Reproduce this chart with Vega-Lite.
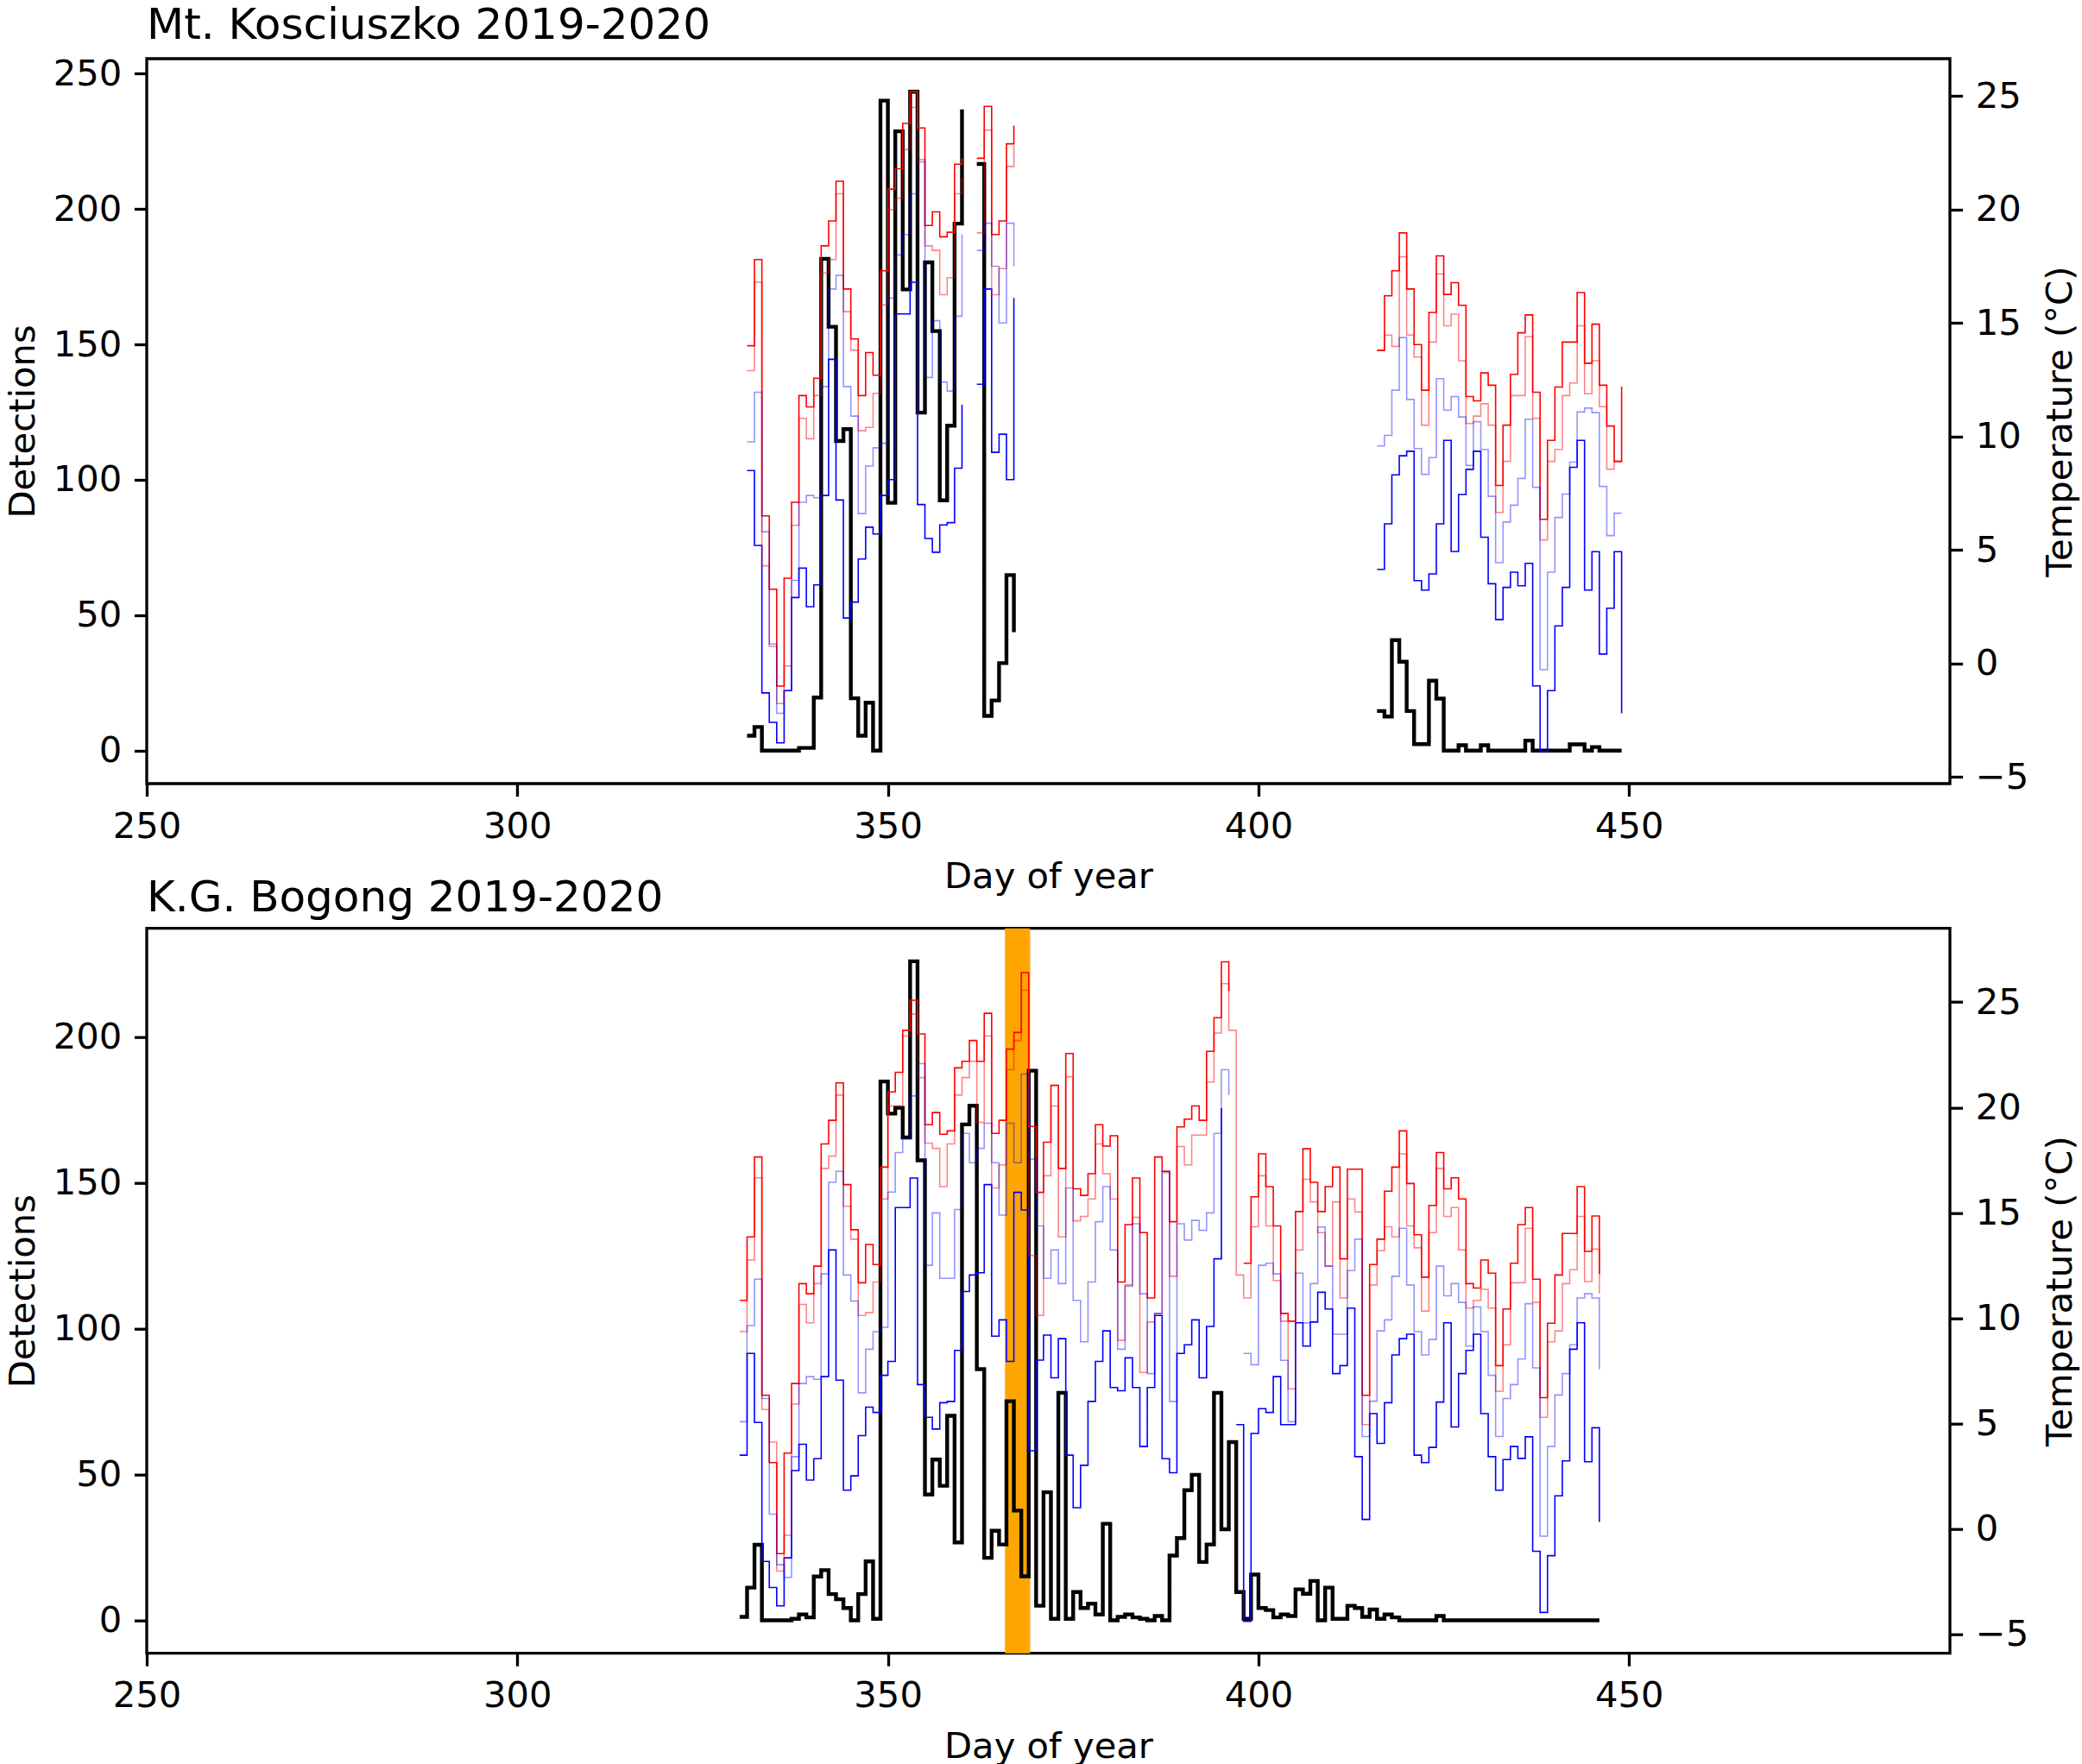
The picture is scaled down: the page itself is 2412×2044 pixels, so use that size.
{
  "$schema": "https://vega.github.io/schema/vega-lite/v6.json",
  "description": "Bogong moth detections and daily temperatures at two alpine sites, summer 2019-2020.",
  "background": "white",
  "padding": {"left": 4, "top": 3, "right": 5, "bottom": 5},
  "bounds": "flush",
  "spacing": 167.7,
  "datasets": {
    "kos": [
      {"day": 331, "det": 5.5, "t_max": 14.0, "t_high": 12.9, "t_low": 9.76, "t_min": 8.5},
      {"day": 332, "det": 8.7, "t_max": 17.8, "t_high": 16.8, "t_low": 11.95, "t_min": 5.2},
      {"day": 333, "det": 0, "t_max": 6.5, "t_high": 4.3, "t_low": 5.8, "t_min": -1.3},
      {"day": 334, "det": 0, "t_max": 3.27, "t_high": 0.75, "t_low": 0.85, "t_min": -2.6},
      {"day": 335, "det": 0, "t_max": -1.0, "t_high": -1.77, "t_low": -2.2, "t_min": -3.5},
      {"day": 336, "det": 0, "t_max": 3.75, "t_high": -0.12, "t_low": -1.2, "t_min": -1.2},
      {"day": 337, "det": 0, "t_max": 7.1, "t_high": 6.08, "t_low": 3.66, "t_min": 2.9},
      {"day": 338, "det": 1, "t_max": 11.8, "t_high": 10.8, "t_low": 7.1, "t_min": 4.2},
      {"day": 339, "det": 1, "t_max": 11.3, "t_high": 9.9, "t_low": 7.4, "t_min": 2.5},
      {"day": 340, "det": 19.6, "t_max": 12.57, "t_high": 11.8, "t_low": 7.3, "t_min": 3.46},
      {"day": 341, "det": 181.6, "t_max": 18.4, "t_high": 17.2, "t_low": 12.2, "t_min": 7.4},
      {"day": 342, "det": 156.5, "t_max": 19.5, "t_high": 17.8, "t_low": 16.5, "t_min": 13.4},
      {"day": 343, "det": 114.3, "t_max": 21.25, "t_high": 20.7, "t_low": 17.1, "t_min": 7.2},
      {"day": 344, "det": 118.7, "t_max": 16.5, "t_high": 15.5, "t_low": 12.2, "t_min": 2.0},
      {"day": 345, "det": 19.3, "t_max": 14.3, "t_high": 13.8, "t_low": 10.9, "t_min": 2.7},
      {"day": 346, "det": 5.5, "t_max": 11.8, "t_high": 10.25, "t_low": 6.6, "t_min": 4.6},
      {"day": 347, "det": 17.7, "t_max": 13.7, "t_high": 10.4, "t_low": 8.7, "t_min": 6.0},
      {"day": 348, "det": 0, "t_max": 12.7, "t_high": 11.9, "t_low": 9.5, "t_min": 5.7},
      {"day": 349, "det": 240, "t_max": 17.3, "t_high": 15.8, "t_low": 9.7, "t_min": 7.4},
      {"day": 350, "det": 91.5, "t_max": 20.9, "t_high": 20.0, "t_low": 16.1, "t_min": 8.1},
      {"day": 351, "det": 228.7, "t_max": 21.8, "t_high": 20.5, "t_low": 18.0, "t_min": 15.4},
      {"day": 352, "det": 170.3, "t_max": 23.8, "t_high": 22.65, "t_low": 18.9, "t_min": 15.4},
      {"day": 353, "det": 243.3, "t_max": 25.2, "t_high": 24.5, "t_low": 20.7, "t_min": 16.8},
      {"day": 354, "det": 124.8, "t_max": 23.6, "t_high": 22.1, "t_low": 22.2, "t_min": 7.0},
      {"day": 355, "det": 180.3, "t_max": 19.3, "t_high": 18.4, "t_low": 12.6, "t_min": 5.5},
      {"day": 356, "det": 154.9, "t_max": 19.9, "t_high": 18.2, "t_low": 15.1, "t_min": 4.9},
      {"day": 357, "det": 92.4, "t_max": 18.8, "t_high": 16.25, "t_low": 12.4, "t_min": 6.1},
      {"day": 358, "det": 120, "t_max": 19.0, "t_high": 17.0, "t_low": 12.0, "t_min": 6.2},
      {"day": 359, "det": 194.6, "t_max": 22.0, "t_high": 20.7, "t_low": 15.3, "t_min": 8.6},
      {"day": 360, "det": 236.8, "t_max": 22.26, "t_high": 21.4, "t_low": 18.9, "t_min": 11.4},
      {"day": 361, "det": null, "t_max": null, "t_high": null, "t_low": null, "t_min": null},
      {"day": 362, "det": 216.6, "t_max": 22.26, "t_high": 18.97, "t_low": 18.2, "t_min": 12.3},
      {"day": 363, "det": 12.8, "t_max": 24.55, "t_high": 23.5, "t_low": 19.4, "t_min": 16.5},
      {"day": 364, "det": 18.5, "t_max": 18.9, "t_high": 16.25, "t_low": 17.5, "t_min": 9.3},
      {"day": 365, "det": 32.3, "t_max": 19.5, "t_high": 17.4, "t_low": 15.0, "t_min": 10.1},
      {"day": 366, "det": 64.8, "t_max": 22.9, "t_high": 21.9, "t_low": 19.4, "t_min": 8.1},
      {"day": 367, "det": 43.7, "t_max": 23.7, "t_high": 22.85, "t_low": 17.5, "t_min": 16.1},
      {"day": 368, "det": null, "t_max": null, "t_high": null, "t_low": null, "t_min": null},
      {"day": 416, "det": 14.6, "t_max": 13.8, "t_high": 13.8, "t_low": 9.58, "t_min": 4.14},
      {"day": 417, "det": 12.6, "t_max": 16.2, "t_high": 14.47, "t_low": 10.05, "t_min": 6.15},
      {"day": 418, "det": 40.8, "t_max": 17.3, "t_high": 13.97, "t_low": 12.04, "t_min": 8.31},
      {"day": 419, "det": 32.8, "t_max": 18.97, "t_high": 17.92, "t_low": 14.36, "t_min": 9.15},
      {"day": 420, "det": 14.6, "t_max": 16.5, "t_high": 14.47, "t_low": 11.63, "t_min": 9.35},
      {"day": 421, "det": 2.4, "t_max": 14.05, "t_high": 13.5, "t_low": 9.47, "t_min": 3.65},
      {"day": 422, "det": 2.4, "t_max": 12.04, "t_high": 10.5, "t_low": 8.33, "t_min": 3.23},
      {"day": 423, "det": 25.8, "t_max": 15.47, "t_high": 14.16, "t_low": 9.07, "t_min": 3.94},
      {"day": 424, "det": 19.2, "t_max": 17.96, "t_high": 17.16, "t_low": 12.55, "t_min": 6.15},
      {"day": 425, "det": 0, "t_max": 16.26, "t_high": 14.88, "t_low": 11.16, "t_min": 9.83},
      {"day": 426, "det": 0, "t_max": 16.78, "t_high": 15.39, "t_low": 11.76, "t_min": 4.93},
      {"day": 427, "det": 2, "t_max": 15.78, "t_high": 13.34, "t_low": 10.86, "t_min": 7.44},
      {"day": 428, "det": 0, "t_max": 11.76, "t_high": 10.57, "t_low": 8.72, "t_min": 8.55},
      {"day": 429, "det": 0, "t_max": 11.57, "t_high": 10.9, "t_low": 10.65, "t_min": 9.35},
      {"day": 430, "det": 2, "t_max": 12.8, "t_high": 11.44, "t_low": 9.43, "t_min": 5.56},
      {"day": 431, "det": 0, "t_max": 12.26, "t_high": 10.5, "t_low": 7.36, "t_min": 3.51},
      {"day": 432, "det": 0, "t_max": 7.84, "t_high": 6.65, "t_low": 4.44, "t_min": 1.93},
      {"day": 433, "det": 0, "t_max": 10.5, "t_high": 8.9, "t_low": 6.23, "t_min": 3.35},
      {"day": 434, "det": 0, "t_max": 12.74, "t_high": 11.8, "t_low": 6.97, "t_min": 4.02},
      {"day": 435, "det": 0, "t_max": 14.57, "t_high": 11.8, "t_low": 8.15, "t_min": 3.42},
      {"day": 436, "det": 3.7, "t_max": 15.36, "t_high": 14.4, "t_low": 10.76, "t_min": 4.41},
      {"day": 437, "det": 0, "t_max": 11.95, "t_high": 10.8, "t_low": 7.76, "t_min": -0.99},
      {"day": 438, "det": 0, "t_max": 6.35, "t_high": 5.44, "t_low": -0.28, "t_min": -3.88},
      {"day": 439, "det": 0, "t_max": 9.83, "t_high": 8.9, "t_low": 4.02, "t_min": -1.2},
      {"day": 440, "det": 0, "t_max": 12.18, "t_high": 9.43, "t_low": 6.43, "t_min": 1.65},
      {"day": 441, "det": 0, "t_max": 14.16, "t_high": 11.8, "t_low": 7.46, "t_min": 3.35},
      {"day": 442, "det": 2.3, "t_max": 14.16, "t_high": 12.36, "t_low": 8.87, "t_min": 8.64},
      {"day": 443, "det": 2.3, "t_max": 16.34, "t_high": 14.88, "t_low": 11.08, "t_min": 9.83},
      {"day": 444, "det": 0, "t_max": 13.23, "t_high": 11.88, "t_low": 11.25, "t_min": 3.23},
      {"day": 445, "det": 1.3, "t_max": 14.95, "t_high": 13.34, "t_low": 11.05, "t_min": 4.92},
      {"day": 446, "det": 0, "t_max": 12.26, "t_high": 11.31, "t_low": 7.8, "t_min": 0.41},
      {"day": 447, "det": 0, "t_max": 10.46, "t_high": 8.56, "t_low": 5.63, "t_min": 2.43},
      {"day": 448, "det": 0, "t_max": 8.9, "t_high": 8.9, "t_low": 6.62, "t_min": 4.92},
      {"day": 449, "det": 0, "t_max": 12.2, "t_high": 8.9, "t_low": 6.62, "t_min": -2.2}
    ],
    "bog": [
      {"day": 330, "det": 1.2, "t_max": 10.85, "t_high": 9.36, "t_low": 5.09, "t_min": 3.5},
      {"day": 331, "det": 11.2, "t_max": 13.86, "t_high": 12.76, "t_low": 9.65, "t_min": 8.33},
      {"day": 332, "det": 25.9, "t_max": 17.65, "t_high": 16.66, "t_low": 11.85, "t_min": 5.05},
      {"day": 333, "det": 0, "t_max": 6.34, "t_high": 5.67, "t_low": 6.19, "t_min": -1.54},
      {"day": 334, "det": 0, "t_max": 3.15, "t_high": 4.12, "t_low": 0.7, "t_min": -2.78},
      {"day": 335, "det": 0, "t_max": -1.17, "t_high": -2.0, "t_low": -1.7, "t_min": -3.65},
      {"day": 336, "det": 0, "t_max": 3.6, "t_high": -0.3, "t_low": -2.3, "t_min": -1.37},
      {"day": 337, "det": 0.5, "t_max": 6.9, "t_high": 5.92, "t_low": 3.43, "t_min": 2.77},
      {"day": 338, "det": 2, "t_max": 11.64, "t_high": 10.65, "t_low": 6.9, "t_min": 4.02},
      {"day": 339, "det": 1, "t_max": 11.16, "t_high": 9.78, "t_low": 7.23, "t_min": 2.32},
      {"day": 340, "det": 15, "t_max": 12.47, "t_high": 11.64, "t_low": 7.1, "t_min": 3.33},
      {"day": 341, "det": 17.2, "t_max": 18.27, "t_high": 17.11, "t_low": 12.1, "t_min": 7.23},
      {"day": 342, "det": 9, "t_max": 19.39, "t_high": 17.69, "t_low": 16.45, "t_min": 13.24},
      {"day": 343, "det": 7.2, "t_max": 21.17, "t_high": 20.59, "t_low": 16.97, "t_min": 7.06},
      {"day": 344, "det": 4.2, "t_max": 16.34, "t_high": 15.31, "t_low": 12.05, "t_min": 1.84},
      {"day": 345, "det": 0, "t_max": 14.2, "t_high": 13.75, "t_low": 10.81, "t_min": 2.52},
      {"day": 346, "det": 9, "t_max": 11.68, "t_high": 10.13, "t_low": 6.46, "t_min": 4.43},
      {"day": 347, "det": 20.2, "t_max": 13.5, "t_high": 10.27, "t_low": 8.53, "t_min": 5.78},
      {"day": 348, "det": 0.5, "t_max": 12.55, "t_high": 11.72, "t_low": 9.36, "t_min": 5.53},
      {"day": 349, "det": 184.7, "t_max": 17.17, "t_high": 15.66, "t_low": 9.57, "t_min": 7.29},
      {"day": 350, "det": 173.7, "t_max": 20.74, "t_high": 20.07, "t_low": 15.99, "t_min": 7.95},
      {"day": 351, "det": 175.7, "t_max": 21.67, "t_high": 20.07, "t_low": 17.86, "t_min": 15.25},
      {"day": 352, "det": 165.5, "t_max": 23.66, "t_high": 23.39, "t_low": 18.52, "t_min": 15.25},
      {"day": 353, "det": 225.9, "t_max": 25.09, "t_high": 24.43, "t_low": 20.55, "t_min": 16.65},
      {"day": 354, "det": 157.7, "t_max": 23.49, "t_high": 21.42, "t_low": 22.08, "t_min": 6.85},
      {"day": 355, "det": 43.1, "t_max": 19.18, "t_high": 18.31, "t_low": 12.51, "t_min": 5.3},
      {"day": 356, "det": 55.1, "t_max": 19.76, "t_high": 18.06, "t_low": 15.0, "t_min": 4.74},
      {"day": 357, "det": 46.1, "t_max": 18.73, "t_high": 16.24, "t_low": 11.89, "t_min": 5.99},
      {"day": 358, "det": 70.1, "t_max": 18.89, "t_high": 18.27, "t_low": 11.89, "t_min": 6.05},
      {"day": 359, "det": 26.7, "t_max": 21.88, "t_high": 20.59, "t_low": 15.16, "t_min": 8.47},
      {"day": 360, "det": 170, "t_max": 22.19, "t_high": 21.42, "t_low": 18.77, "t_min": 11.27},
      {"day": 361, "det": 176.4, "t_max": 23.18, "t_high": 22.19, "t_low": 17.38, "t_min": 12.05},
      {"day": 362, "det": 86.1, "t_max": 22.19, "t_high": 19.29, "t_low": 18.06, "t_min": 12.16},
      {"day": 363, "det": 21.4, "t_max": 24.47, "t_high": 23.39, "t_low": 19.25, "t_min": 16.34},
      {"day": 364, "det": 30.7, "t_max": 18.77, "t_high": 16.18, "t_low": 17.38, "t_min": 9.15},
      {"day": 365, "det": 26, "t_max": 19.39, "t_high": 17.28, "t_low": 14.89, "t_min": 9.92},
      {"day": 366, "det": 75.1, "t_max": 22.77, "t_high": 21.79, "t_low": 19.25, "t_min": 7.95},
      {"day": 367, "det": 37.6, "t_max": 23.56, "t_high": 23.18, "t_low": 17.38, "t_min": 15.97},
      {"day": 368, "det": 15.1, "t_max": 26.4, "t_high": 25.56, "t_low": 21.59, "t_min": 15.14},
      {"day": 369, "det": 188.4, "t_max": 19.1, "t_high": 12.97, "t_low": 17.55, "t_min": 3.71},
      {"day": 370, "det": 5, "t_max": 15.97, "t_high": 10.13, "t_low": 14.38, "t_min": 8.01},
      {"day": 371, "det": 43.9, "t_max": 18.35, "t_high": 16.76, "t_low": 11.89, "t_min": 9.2},
      {"day": 372, "det": 0.5, "t_max": 21.05, "t_high": 20.07, "t_low": 13.24, "t_min": 7.17},
      {"day": 373, "det": 78.0, "t_max": 17.11, "t_high": 13.86, "t_low": 11.64, "t_min": 9.03},
      {"day": 374, "det": 0.5, "t_max": 22.56, "t_high": 21.46, "t_low": 16.18, "t_min": 3.5},
      {"day": 375, "det": 9.7, "t_max": 16.14, "t_high": 14.62, "t_low": 10.85, "t_min": 1.01},
      {"day": 376, "det": 4.2, "t_max": 15.83, "t_high": 14.83, "t_low": 8.88, "t_min": 3.02},
      {"day": 377, "det": 5.7, "t_max": 16.86, "t_high": 15.66, "t_low": 11.72, "t_min": 6.05},
      {"day": 378, "det": 2, "t_max": 19.18, "t_high": 18.27, "t_low": 14.58, "t_min": 7.95},
      {"day": 379, "det": 33.1, "t_max": 18.17, "t_high": 16.86, "t_low": 16.24, "t_min": 9.4},
      {"day": 380, "det": 0, "t_max": 18.66, "t_high": 15.66, "t_low": 13.24, "t_min": 6.71},
      {"day": 381, "det": 1.2, "t_max": 11.72, "t_high": 8.95, "t_low": 8.53, "t_min": 6.56},
      {"day": 382, "det": 2, "t_max": 14.44, "t_high": 11.58, "t_low": 11.52, "t_min": 8.12},
      {"day": 383, "det": 1, "t_max": 16.65, "t_high": 14.79, "t_low": 14.48, "t_min": 6.71},
      {"day": 384, "det": 0.5, "t_max": 14.06, "t_high": 7.43, "t_low": 11.16, "t_min": 3.91},
      {"day": 385, "det": 0, "t_max": 10.96, "t_high": 9.82, "t_low": 7.37, "t_min": 6.71},
      {"day": 386, "det": 1.5, "t_max": 17.65, "t_high": 10.23, "t_low": 10.23, "t_min": 10.13},
      {"day": 387, "det": 0, "t_max": 16.97, "t_high": 16.9, "t_low": 16.97, "t_min": 3.33},
      {"day": 388, "det": 22.2, "t_max": 14.58, "t_high": 11.99, "t_low": 6.05, "t_min": 2.67},
      {"day": 389, "det": 28.2, "t_max": 19.08, "t_high": 18.15, "t_low": 14.48, "t_min": 8.33},
      {"day": 390, "det": 44.6, "t_max": 19.45, "t_high": 17.28, "t_low": 13.71, "t_min": 8.74},
      {"day": 391, "det": 49.9, "t_max": 20.07, "t_high": 18.69, "t_low": 14.64, "t_min": 9.92},
      {"day": 392, "det": 20, "t_max": 19.39, "t_high": 18.69, "t_low": 14.17, "t_min": 7.17},
      {"day": 393, "det": 26, "t_max": 22.66, "t_high": 21.21, "t_low": 15.0, "t_min": 9.61},
      {"day": 394, "det": 78.0, "t_max": 24.26, "t_high": 23.53, "t_low": 18.77, "t_min": 12.82},
      {"day": 395, "det": 31.2, "t_max": 26.91, "t_high": 25.88, "t_low": 21.79, "t_min": 19.97},
      {"day": 396, "det": 61.1, "t_max": 25.52, "t_high": 23.66, "t_low": 20.59, "t_min": null},
      {"day": 397, "det": 9.7, "t_max": null, "t_high": 12.05, "t_low": null, "t_min": 4.95},
      {"day": 398, "det": 0.5, "t_max": 12.61, "t_high": 10.96, "t_low": 8.33, "t_min": -4.38},
      {"day": 399, "det": 15.7, "t_max": 15.76, "t_high": 14.34, "t_low": 7.79, "t_min": 4.53},
      {"day": 400, "det": 4.2, "t_max": 17.8, "t_high": 16.76, "t_low": 12.51, "t_min": 5.71},
      {"day": 401, "det": 3.5, "t_max": 16.24, "t_high": 14.38, "t_low": 12.61, "t_min": 5.53},
      {"day": 402, "det": 1, "t_max": 14.38, "t_high": 11.79, "t_low": 12.1, "t_min": 7.23},
      {"day": 403, "det": 2, "t_max": 10.23, "t_high": 9.86, "t_low": 8.0, "t_min": 4.95},
      {"day": 404, "det": 1.5, "t_max": 9.86, "t_high": 6.65, "t_low": 5.09, "t_min": 4.95},
      {"day": 405, "det": 10.6, "t_max": 15.06, "t_high": 13.24, "t_low": 12.14, "t_min": 9.78},
      {"day": 406, "det": 9.1, "t_max": 18.04, "t_high": 16.59, "t_low": 9.78, "t_min": 8.68},
      {"day": 407, "det": 13.5, "t_max": 16.45, "t_high": 15.52, "t_low": 11.64, "t_min": 9.82},
      {"day": 408, "det": 0, "t_max": 15.06, "t_high": 14.06, "t_low": 14.33, "t_min": 11.23},
      {"day": 409, "det": 11.2, "t_max": 16.24, "t_high": 12.47, "t_low": 12.47, "t_min": 10.44},
      {"day": 410, "det": 0.5, "t_max": 17.17, "t_high": 15.52, "t_low": 9.24, "t_min": 7.37},
      {"day": 411, "det": 0.5, "t_max": 12.82, "t_high": 10.96, "t_low": 9.24, "t_min": 7.75},
      {"day": 412, "det": 5, "t_max": 17.07, "t_high": 15.66, "t_low": 12.26, "t_min": 10.48},
      {"day": 413, "det": 4.2, "t_max": 17.07, "t_high": 15.04, "t_low": 13.75, "t_min": 3.43},
      {"day": 414, "det": 1.2, "t_max": 6.34, "t_high": 4.95, "t_low": 4.39, "t_min": 0.45},
      {"day": 415, "det": 3.7, "t_max": 12.55, "t_high": 11.58, "t_low": 6.06, "t_min": 5.47},
      {"day": 416, "det": 0.5, "t_max": 13.75, "t_high": 13.2, "t_low": 9.4, "t_min": 4.06},
      {"day": 417, "det": 2, "t_max": 16.03, "t_high": 14.34, "t_low": 9.92, "t_min": 5.99},
      {"day": 418, "det": 1, "t_max": 17.17, "t_high": 13.86, "t_low": 11.99, "t_min": 8.26},
      {"day": 419, "det": 0, "t_max": 18.89, "t_high": 17.8, "t_low": 14.27, "t_min": 9.03},
      {"day": 420, "det": 0, "t_max": 16.39, "t_high": 14.38, "t_low": 11.58, "t_min": 9.24},
      {"day": 421, "det": 0, "t_max": 13.96, "t_high": 13.34, "t_low": 9.36, "t_min": 3.5},
      {"day": 422, "det": 0, "t_max": 11.95, "t_high": 10.34, "t_low": 8.26, "t_min": 3.15},
      {"day": 423, "det": 0, "t_max": 15.35, "t_high": 14.06, "t_low": 8.99, "t_min": 3.87},
      {"day": 424, "det": 1.5, "t_max": 17.86, "t_high": 17.11, "t_low": 12.47, "t_min": 6.02},
      {"day": 425, "det": 0, "t_max": 16.14, "t_high": 14.83, "t_low": 11.06, "t_min": 9.78},
      {"day": 426, "det": 0, "t_max": 16.66, "t_high": 15.25, "t_low": 11.64, "t_min": 4.84},
      {"day": 427, "det": 0, "t_max": 15.66, "t_high": 13.24, "t_low": 10.75, "t_min": 7.37},
      {"day": 428, "det": 0, "t_max": 11.64, "t_high": 10.48, "t_low": 8.68, "t_min": 8.47},
      {"day": 429, "det": 0, "t_max": 11.43, "t_high": 10.85, "t_low": 10.54, "t_min": 9.24},
      {"day": 430, "det": 0, "t_max": 12.76, "t_high": 11.37, "t_low": 9.36, "t_min": 5.47},
      {"day": 431, "det": 0, "t_max": 12.14, "t_high": 10.48, "t_low": 7.29, "t_min": 3.43},
      {"day": 432, "det": 0, "t_max": 7.75, "t_high": 6.54, "t_low": 4.39, "t_min": 1.84},
      {"day": 433, "det": 0, "t_max": 10.44, "t_high": 8.74, "t_low": 6.19, "t_min": 3.29},
      {"day": 434, "det": 0, "t_max": 12.61, "t_high": 11.68, "t_low": 6.85, "t_min": 3.91},
      {"day": 435, "det": 0, "t_max": 14.44, "t_high": 11.68, "t_low": 8.06, "t_min": 3.35},
      {"day": 436, "det": 0, "t_max": 15.25, "t_high": 14.27, "t_low": 10.69, "t_min": 4.37},
      {"day": 437, "det": 0, "t_max": 11.85, "t_high": 10.75, "t_low": 7.64, "t_min": -1.06},
      {"day": 438, "det": 0, "t_max": 6.23, "t_high": 5.3, "t_low": -0.34, "t_min": -3.96},
      {"day": 439, "det": 0, "t_max": 9.76, "t_high": 8.88, "t_low": 3.91, "t_min": -1.27},
      {"day": 440, "det": 0, "t_max": 12.05, "t_high": 9.4, "t_low": 6.36, "t_min": 1.57},
      {"day": 441, "det": 0, "t_max": 14.02, "t_high": 11.64, "t_low": 7.37, "t_min": 3.23},
      {"day": 442, "det": 0, "t_max": 14.02, "t_high": 12.3, "t_low": 8.74, "t_min": 8.53},
      {"day": 443, "det": 0, "t_max": 16.24, "t_high": 14.83, "t_low": 10.96, "t_min": 9.78},
      {"day": 444, "det": 0, "t_max": 13.17, "t_high": 11.74, "t_low": 11.16, "t_min": 3.19},
      {"day": 445, "det": 0, "t_max": 14.85, "t_high": 13.28, "t_low": 10.96, "t_min": 4.8},
      {"day": 446, "det": 0, "t_max": 12.1, "t_high": 11.16, "t_low": 7.58, "t_min": 0.33}
    ],
    "smoke": [
      {"start": 365.8, "end": 369.2}
    ]
  },
  "vconcat": [
    {
      "title": "Mt. Kosciuszko 2019-2020",
      "width": 2089,
      "height": 840,
      "data": {"name": "kos"},
      "layer": [
        {
          "mark": {"type": "line", "interpolate": "step-after", "color": "black", "strokeWidth": 4.4, "invalid": "break-paths-filter-domains"},
          "encoding": {
            "x": {"field": "day", "type": "quantitative", "title": "Day of year", "scale": {"domain": [250, 493.3], "nice": false, "zero": false}, "axis": {"values": [250, 300, 350, 400, 450]}},
            "y": {"field": "det", "type": "quantitative", "title": "Detections", "scale": {"domain": [-12.2, 255.5], "nice": false, "zero": false}, "axis": {"values": [0, 50, 100, 150, 200, 250]}}
          }
        },
        {
          "transform": [{"fold": ["t_max", "t_min", "t_high", "t_low"], "as": ["series", "temp"]}],
          "mark": {"type": "line", "interpolate": "step-after", "strokeWidth": 1.6, "invalid": "break-paths-filter-domains"},
          "encoding": {
            "x": {"field": "day", "type": "quantitative", "title": "Day of year"},
            "y": {"field": "temp", "type": "quantitative", "title": "Temperature (°C)", "scale": {"domain": [-5.3, 26.65], "nice": false, "zero": false}, "axis": {"orient": "right", "values": [-5, 0, 5, 10, 15, 20, 25], "titleAngle": 270, "titleBaseline": "top"}},
            "color": {"field": "series", "type": "nominal", "legend": null, "scale": {"domain": ["t_max", "t_min", "t_high", "t_low"], "range": ["#ff0000", "#0000ff", "rgba(255,0,0,0.48)", "rgba(0,0,255,0.42)"]}}
          }
        }
      ],
      "resolve": {"scale": {"y": "independent"}}
    },
    {
      "title": "K.G. Bogong 2019-2020",
      "width": 2089,
      "height": 840,
      "layer": [
        {
          "data": {"name": "smoke"},
          "mark": {"type": "rect", "color": "#ffa500"},
          "encoding": {
            "x": {"field": "start", "type": "quantitative", "title": "Day of year", "scale": {"domain": [250, 493.3], "nice": false, "zero": false}, "axis": {"values": [250, 300, 350, 400, 450]}},
            "x2": {"field": "end"}
          }
        },
        {
          "data": {"name": "bog"},
          "mark": {"type": "line", "interpolate": "step-after", "color": "black", "strokeWidth": 4.4, "invalid": "break-paths-filter-domains"},
          "encoding": {
            "x": {"field": "day", "type": "quantitative", "title": "Day of year"},
            "y": {"field": "det", "type": "quantitative", "title": "Detections", "scale": {"domain": [-11.3, 237.2], "nice": false, "zero": false}, "axis": {"values": [0, 50, 100, 150, 200]}}
          }
        },
        {
          "data": {"name": "bog"},
          "transform": [{"fold": ["t_max", "t_min", "t_high", "t_low"], "as": ["series", "temp"]}],
          "mark": {"type": "line", "interpolate": "step-after", "strokeWidth": 1.6, "invalid": "break-paths-filter-domains"},
          "encoding": {
            "x": {"field": "day", "type": "quantitative", "title": "Day of year"},
            "y": {"field": "temp", "type": "quantitative", "title": "Temperature (°C)", "scale": {"domain": [-5.9, 28.5], "nice": false, "zero": false}, "axis": {"orient": "right", "values": [-5, 0, 5, 10, 15, 20, 25], "titleAngle": 270, "titleBaseline": "top"}},
            "color": {"field": "series", "type": "nominal", "legend": null, "scale": {"domain": ["t_max", "t_min", "t_high", "t_low"], "range": ["#ff0000", "#0000ff", "rgba(255,0,0,0.48)", "rgba(0,0,255,0.42)"]}}
          }
        }
      ],
      "resolve": {"scale": {"y": "independent"}}
    }
  ],
  "config": {
    "font": "DejaVu Sans",
    "view": {"stroke": "black", "strokeWidth": 3.3},
    "axis": {
      "domain": false,
      "grid": false,
      "labelFont": "DejaVu Sans",
      "labelFontSize": 41.7,
      "labelColor": "black",
      "labelFlush": false,
      "labelOverlap": false,
      "labelPadding": 14.6,
      "tickColor": "black",
      "tickSize": 14.6,
      "tickWidth": 3.3,
      "titleFont": "DejaVu Sans",
      "titleFontSize": 41.7,
      "titleFontWeight": "normal",
      "titleColor": "black",
      "titlePadding": 16.7
    },
    "axisLeft": {"titlePadding": 12.7},
    "title": {
      "font": "DejaVu Sans",
      "fontSize": 50,
      "fontWeight": "normal",
      "color": "black",
      "anchor": "start",
      "frame": "group",
      "offset": 10,
      "baseline": "alphabetic"
    }
  }
}
